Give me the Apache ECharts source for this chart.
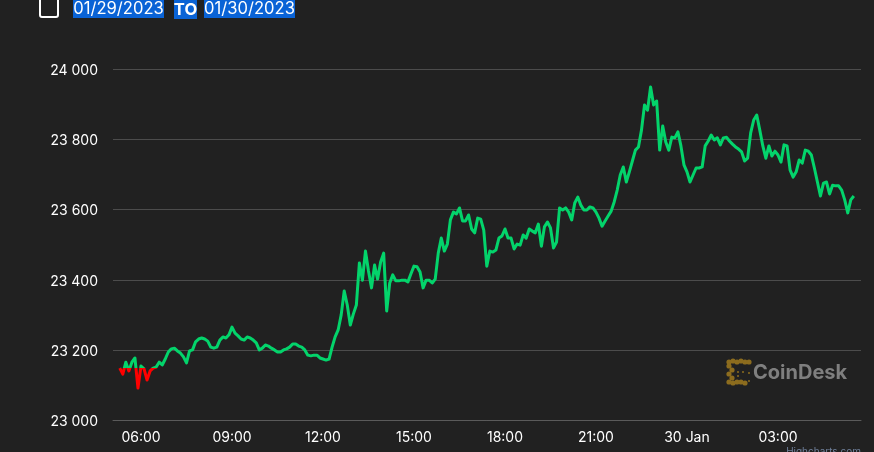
<!DOCTYPE html>
<html><head><meta charset="utf-8">
<style>html,body{margin:0;padding:0;background:#212121}#c{width:874px;height:452px}</style>
<script src="https://cdn.jsdelivr.net/npm/echarts@6/dist/echarts.min.js"></script>
</head><body><div id="c"></div>
<script>
const startHour = 5.3;
const stepHours = 0.1;
const baseline = 23148;
const prices = [23148,23131,23165,23140,23165,23177,23091,23154,23146,23114,23140,23148,23151,23165,23157,23174,23194,23203,23205,23197,23191,23180,23163,23197,23200,23223,23231,23234,23231,23225,23208,23205,23208,23228,23237,23234,23243,23265,23248,23240,23231,23228,23237,23234,23228,23220,23200,23205,23214,23211,23205,23200,23194,23194,23200,23203,23208,23217,23217,23211,23208,23200,23185,23183,23185,23185,23177,23174,23171,23174,23208,23237,23257,23300,23368,23328,23271,23302,23328,23448,23399,23482,23425,23377,23442,23402,23451,23476,23311,23391,23414,23397,23397,23399,23399,23394,23417,23439,23437,23422,23377,23399,23399,23391,23402,23476,23519,23482,23502,23571,23593,23588,23605,23568,23568,23585,23545,23534,23576,23573,23542,23439,23482,23479,23485,23519,23525,23545,23519,23519,23488,23502,23499,23528,23519,23545,23539,23534,23559,23496,23551,23565,23548,23491,23508,23605,23599,23605,23593,23571,23619,23636,23613,23599,23599,23608,23605,23593,23576,23553,23568,23582,23596,23622,23656,23699,23722,23679,23708,23739,23770,23779,23827,23899,23884,23950,23899,23910,23770,23839,23793,23770,23807,23805,23822,23782,23728,23708,23679,23699,23719,23719,23722,23782,23796,23813,23799,23805,23785,23805,23807,23796,23787,23779,23773,23765,23739,23747,23819,23856,23870,23827,23782,23747,23782,23753,23767,23756,23736,23785,23782,23713,23693,23708,23742,23733,23770,23767,23756,23719,23679,23639,23676,23679,23645,23670,23668,23668,23656,23628,23591,23628,23639];
const tickHours = [6,9,12,15,18,21,24,27];
const tickLabels = ['06:00','09:00','12:00','15:00','18:00','21:00','30 Jan','03:00'];
const yTicks = [23000,23200,23400,23600,23800,24000];
const dateFrom = '01/29/2023', dateTo = '01/30/2023', joiner = 'TO';

const font = 'Inter, "Liberation Sans", Arial, sans-serif';
const chart = echarts.init(document.getElementById('c'), null, {renderer:'canvas'});
const seriesData = prices.map((v,i)=>[startHour + i*stepHours, v]);
const gold = '#8c6c1e';
const dot = (x,y,r)=>({type:'circle',silent:true,shape:{cx:x,cy:y,r:r},style:{fill:gold}});
const hl = (x,y,w,h,t,weight)=>[
  {type:'rect',silent:true,shape:{x:x,y:y,width:w,height:h},style:{fill:'#0a63d6'}},
  {type:'text',silent:true,x:x+w/2,y:y+h/2,style:{text:t,fill:'#fff',font:weight+' 16.6px '+font,align:'center',verticalAlign:'middle'}}
];
const logoDots = [];
[[729,362],[733,361],[737,362],[741,361],[745,362],[749,362],[729,366],[732,370],[729,374],[732,378],[729,382],[733,383],[737,382],[741,382],[745,383]].forEach(p=>logoDots.push(dot(p[0],p[1],2.6)));
[[738,372],[738,376],[743,372],[749,373],[749,381]].forEach(p=>logoDots.push(dot(p[0],p[1],1)));
chart.setOption({
  animation:false,
  backgroundColor:'#212121',
  grid:{left:113,right:13,top:69.5,bottom:32},
  xAxis:{type:'value',min:5.077,max:29.737,
    axisLine:{show:true,onZero:false,lineStyle:{color:'#5a5a5a',width:1}},
    axisTick:{show:false,customValues:tickHours},splitLine:{show:false},
    axisLabel:{customValues:tickHours,color:'#ffffff',fontFamily:font,fontSize:14,margin:11,
      formatter:v=>{const i=tickHours.indexOf(v);return i>=0?tickLabels[i]:'';}}},
  yAxis:{type:'value',min:yTicks[0],max:yTicks[yTicks.length-1],interval:200,
    axisLine:{show:false},axisTick:{show:false},
    splitLine:{lineStyle:{color:'#4c4c4c',width:1}},
    axisLabel:{color:'#ffffff',fontFamily:font,fontSize:14,margin:15,verticalAlign:'top',lineHeight:3,
      formatter:v=>String(v).replace(/(\d{2})(\d{3})/,'$1 $2')}},
  visualMap:{show:false,type:'piecewise',dimension:1,seriesIndex:0,
    pieces:[{min:yTicks[0],max:baseline,color:'#ff0000'},{min:baseline,max:yTicks[yTicks.length-1],color:'#03d46b'}]},
  series:[{type:'line',data:seriesData,showSymbol:false,symbol:'none',smooth:false,
    lineStyle:{width:3,join:'round'},z:3}],
  graphic:[
    {type:'rect',silent:true,shape:{x:40,y:-4,width:18,height:21,r:2},style:{fill:'transparent',stroke:'#fff',lineWidth:2}},
    ...hl(73,0,91,18,dateFrom,'normal'),
    ...hl(174,0,23,19,joiner,'bold'),
    ...hl(204,0,91,18,dateTo,'normal'),
    ...logoDots,
    {type:'text',silent:true,x:753,y:373,style:{text:'CoinDesk',fill:'#7f7f7f',font:'bold 20px '+font,verticalAlign:'middle'}},
    {type:'text',silent:true,x:861,y:447,style:{text:'Highcharts.com',fill:'#6f7f99',font:'10px '+font,align:'right',verticalAlign:'top'}}
  ]
});
</script></body></html>
